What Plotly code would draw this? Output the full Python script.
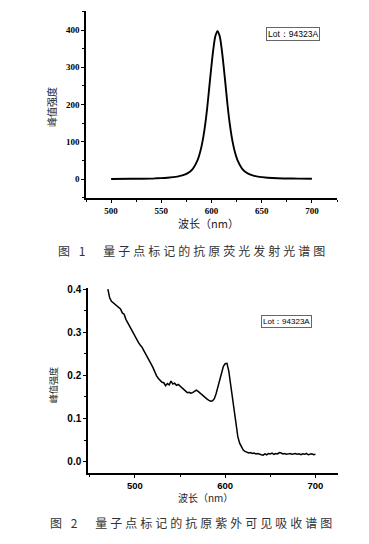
import plotly.graph_objects as go

# ---- Figure 1: emission spectrum ----
em_wavelength = [500, 520, 540, 546, 556, 566, 571, 576, 581, 586, 588, 590, 592, 594,
                 596, 598, 600, 602, 604, 606, 608, 610, 612, 614, 616, 618, 620, 622,
                 624, 626, 631, 636, 641, 646, 656, 666, 686, 700]
em_intensity = [0, 0.5, 1.0, 2.0, 3.5, 6.5, 9.5, 15, 26, 50, 66, 87, 115, 152,
                198, 252, 305, 352, 385, 397, 385, 352, 305, 252, 198, 152, 115, 87,
                66, 50, 26, 15, 9.5, 6.5, 3.5, 2.0, 1.0, 0.5]

# ---- Figure 2: UV-vis absorption spectrum ----
abs_wavelength = [470, 472, 474, 476, 478, 480, 482, 484, 486, 488, 490, 492, 494, 496, 498,
                  500, 502, 504, 506, 508, 510, 512, 514, 516, 518, 520, 522, 524, 526, 528,
                  530, 532, 534, 536, 538, 540, 542, 544, 546, 548, 550, 552, 554, 556, 558,
                  560, 562, 564, 566, 568, 570, 572, 574, 576, 578, 580, 582, 584, 586, 588,
                  590, 592, 594, 596, 598, 600, 602, 604, 606, 608, 610, 612, 614, 616, 618,
                  620, 622, 624, 626, 628, 630, 632, 634, 636, 638, 640, 642, 644, 646, 648,
                  650, 652, 654, 656, 658, 660, 662, 664, 666, 668, 670, 672, 674, 676, 678,
                  680, 682, 684, 686, 688, 690, 692, 694, 696, 698, 700]
abs_value = [0.400, 0.380, 0.372, 0.368, 0.364, 0.360, 0.357, 0.354, 0.345, 0.342, 0.330, 0.322, 0.315, 0.305, 0.299,
             0.290, 0.282, 0.276, 0.270, 0.265, 0.257, 0.250, 0.243, 0.235, 0.226, 0.218, 0.208, 0.199, 0.193, 0.188,
             0.184, 0.183, 0.176, 0.181, 0.178, 0.187, 0.180, 0.182, 0.177, 0.179, 0.175, 0.170, 0.167, 0.164, 0.160,
             0.161, 0.159, 0.160, 0.163, 0.166, 0.163, 0.159, 0.155, 0.151, 0.148, 0.145, 0.142, 0.140, 0.141, 0.146,
             0.158, 0.175, 0.192, 0.208, 0.221, 0.227, 0.228, 0.210, 0.180, 0.145, 0.110, 0.080, 0.058, 0.043, 0.033,
             0.027, 0.024, 0.022, 0.020, 0.021, 0.019, 0.020, 0.018, 0.019, 0.017, 0.016, 0.015, 0.018, 0.016, 0.019,
             0.018, 0.020, 0.017, 0.019, 0.018, 0.021, 0.020, 0.018, 0.019, 0.017, 0.018, 0.019, 0.017, 0.018, 0.019,
             0.017, 0.018, 0.016, 0.018, 0.017, 0.019, 0.016, 0.017, 0.018, 0.016, 0.017]

y_title = "峰值强度"
x_title = "波长（nm）"
lot_label = "Lot：94323A"
caption1 = "图 1　量子点标记的抗原荧光发射光谱图"
caption2 = "图 2　量子点标记的抗原紫外可见吸收谱图"

# page body has an 8px default margin; size the figure to fill the rest of the window
OFF = 8
W, H = 369 - OFF, 544 - OFF

def px(x):
    return (x - OFF) / W

def py(y):
    return 1 - (y - OFF) / H

SP = "\u2005"
def spaced(s):
    return SP.join(list(s))

fig = go.Figure()
fig.add_trace(go.Scatter(x=em_wavelength, y=em_intensity, mode="lines", line=dict(color="black", width=1.9, shape="spline"),
                         xaxis="x", yaxis="y", showlegend=False))
fig.add_trace(go.Scatter(x=abs_wavelength, y=abs_value, mode="lines", line=dict(color="black", width=1.5),
                         xaxis="x2", yaxis="y2", showlegend=False))

serif_bold = dict(family="Liberation Serif", size=9, color="black", weight="bold")
sans_bold = dict(family="Liberation Sans", size=9.5, color="black", weight="bold")
common = dict(showline=True, linecolor="black", linewidth=1.5, ticks="outside", ticklen=3, tickwidth=1.2,
              tickcolor="black", showgrid=False, zeroline=False, mirror=False, automargin=False)

fig.update_layout(
    width=W, height=H, margin=dict(l=0, r=0, t=0, b=0, autoexpand=False),
    paper_bgcolor="white", plot_bgcolor="white",
    xaxis=dict(domain=[px(86), px(337)], range=[475, 725], tickvals=[500, 550, 600, 650, 700],
               tickfont=serif_bold, anchor="y",
               minor=dict(ticks="outside", ticklen=2, tickwidth=1, tickcolor="black", tickvals=[475, 525, 575, 625, 675, 725]),
               **common),
    yaxis=dict(domain=[py(198), py(11)], range=[-51, 451], tickvals=[0, 100, 200, 300, 400],
               tickfont=serif_bold, anchor="x",
               minor=dict(ticks="outside", ticklen=2, tickwidth=1, tickcolor="black", tickvals=[-50, 50, 150, 250, 350, 450]),
               **common),
    xaxis2=dict(domain=[px(88), px(338)], range=[448, 725], tickvals=[500, 600, 700],
                tickfont=sans_bold, anchor="y2",
                minor=dict(ticks="outside", ticklen=2, tickwidth=1, tickcolor="black", tickvals=[450, 550, 650]),
                **common),
    yaxis2=dict(domain=[py(473.3), py(288.3)], range=[-0.027, 0.402], tickvals=[0.0, 0.1, 0.2, 0.3, 0.4],
                ticktext=["0.0", "0.1", "0.2", "0.3", "0.4"],
                tickfont=dict(family="Liberation Sans", size=10, color="black", weight="bold"), anchor="x2",
                minor=dict(ticks="outside", ticklen=2, tickwidth=1, tickcolor="black", tickvals=[0.05, 0.15, 0.25, 0.35]),
                **common),
)

cjk = "Noto Sans CJK SC"
def note(text, x, y, font, **kw):
    d = dict(text=text, x=px(x), y=py(y), xref="paper", yref="paper", showarrow=False,
             xanchor="center", yanchor="middle", font=font)
    d.update(kw)
    return d

ann = [
    note(y_title, 52, 107, dict(family=cjk, size=10, color="#222"), textangle=-90),
    note(x_title, 208, 223, dict(family=cjk, size=11, color="#222")),
    note(y_title, 53, 385, dict(family=cjk, size=9, color="#222"), textangle=-90),
    note(x_title, 205, 497, dict(family=cjk, size=10, color="#222")),
    note(lot_label, 293, 34.5, dict(family="Liberation Sans", size=8.5, color="black"),
         bordercolor="#666", borderwidth=1, borderpad=1, bgcolor="white"),
    note(lot_label, 286.5, 321, dict(family="Liberation Sans", size=8, color="black"),
         bordercolor="#666", borderwidth=1, borderpad=1, bgcolor="white"),
    note(spaced(caption1), 191, 250, dict(family=cjk, size=12, color="#333")),
    note(spaced(caption2), 191, 522.5, dict(family=cjk, size=12, color="#333")),
]
fig.update_layout(annotations=ann)

fig.write_html("out.html")
